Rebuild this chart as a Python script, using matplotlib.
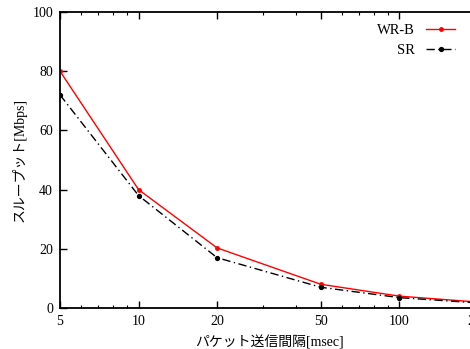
import matplotlib
matplotlib.use("Agg")
import matplotlib.pyplot as plt
from matplotlib.ticker import FixedLocator, FixedFormatter, NullFormatter, LogLocator

interval = [5, 10, 20, 50, 100, 200]
wrb = [80, 40, 20.3, 8.0, 4.0, 2.0]
sr = [72, 38, 17.0, 7.0, 3.5, 1.7]
xticks = [5, 10, 20, 50, 100, 200]
yticks = [0, 20, 40, 60, 80, 100]

fam = ['Liberation Serif', 'Noto Sans CJK JP']
plt.rcParams['font.family'] = fam

fig = plt.figure(figsize=(4.70, 3.49), dpi=100)
L = 60 / 470
B = (349 - 308) / 349
W = (478 - 60) / 470
H = (308 - 12) / 349
ax = fig.add_axes([L, B, W, H])

ax.plot(interval, wrb, color='#ff0000', lw=1.0, marker='o', ms=2.5, label='WR-B')
ax.plot(interval, sr, color='black', lw=1.0, ls=(0, (6, 2.5, 1, 2.5)), marker='o', ms=2.8, label='SR')

ax.set_xscale('log')
ax.set_xlim(5, 200)
ax.set_ylim(0, 100)
ax.xaxis.set_major_locator(FixedLocator(xticks))
ax.xaxis.set_major_formatter(FixedFormatter([str(v) for v in xticks]))
ax.xaxis.set_minor_locator(LogLocator(base=10, subs=range(1, 10)))
ax.xaxis.set_minor_formatter(NullFormatter())
ax.set_yticks(yticks)
ax.tick_params(axis='both', which='major', direction='in', length=5, width=1, labelsize=10, top=True, right=True, pad=5)
ax.tick_params(axis='both', which='minor', direction='in', length=2.5, width=0.8, top=True, right=True)
for s in ax.spines.values():
    s.set_linewidth(1.3)

ax.set_xlabel('パケット送信間隔[msec]', fontsize=10, labelpad=5)
ax.set_ylabel('スループット[Mbps]', fontsize=10, labelpad=4)

leg = ax.legend(loc='upper right', bbox_to_anchor=(0.967, 0.99), frameon=False, markerfirst=False,
                fontsize=10.5, handlelength=2.0, handletextpad=0.8, labelspacing=0.5, borderaxespad=0.2)

fig.savefig('out.png', dpi=100)
